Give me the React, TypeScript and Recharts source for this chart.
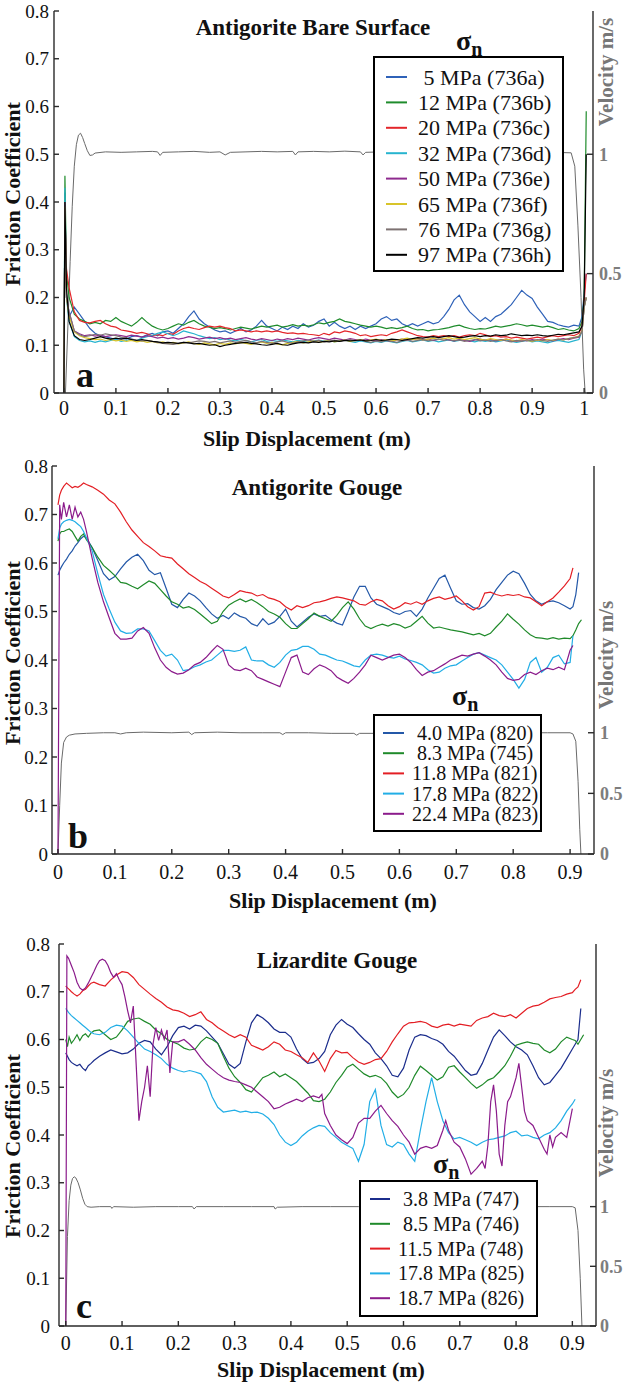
import React from 'react';
import { LineChart, Line, XAxis, YAxis } from 'recharts';

const SERIF = '"Liberation Serif", "Times New Roman", Times, serif';

// shared axis ticks
const frictionTicks = [0, 0.1, 0.2, 0.3, 0.4, 0.5, 0.6, 0.7, 0.8];
const velocityTicks = [0, 0.5, 1];
const slipTicksA = [0, 0.1, 0.2, 0.3, 0.4, 0.5, 0.6, 0.7, 0.8, 0.9, 1];
const slipTicksGouge = [0, 0.1, 0.2, 0.3, 0.4, 0.5, 0.6, 0.7, 0.8, 0.9];

// ---------- (a) Antigorite bare surface ----------
const slipA = [
  0, 0.002, 0.005,
  0.01, 0.02, 0.03, 0.04, 0.05, 0.06, 0.07, 0.08, 0.09, 0.1,
  0.11, 0.12, 0.13, 0.14, 0.15, 0.16, 0.17, 0.18, 0.19, 0.2,
  0.21, 0.22, 0.23, 0.24, 0.25, 0.26, 0.27, 0.28, 0.29, 0.3,
  0.31, 0.32, 0.33, 0.34, 0.35, 0.36, 0.37, 0.38, 0.39, 0.4,
  0.41, 0.42, 0.43, 0.44, 0.45, 0.46, 0.47, 0.48, 0.49, 0.5,
  0.51, 0.52, 0.53, 0.54, 0.55, 0.56, 0.57, 0.58, 0.59, 0.6,
  0.61, 0.62, 0.63, 0.64, 0.65, 0.66, 0.67, 0.68, 0.69, 0.7,
  0.71, 0.72, 0.73, 0.74, 0.75, 0.76, 0.77, 0.78, 0.79, 0.8,
  0.81, 0.82, 0.83, 0.84, 0.85, 0.86, 0.87, 0.88, 0.89, 0.9,
  0.91, 0.92, 0.93, 0.94, 0.95, 0.96, 0.97, 0.98, 0.99,
  0.996, 1.0, 1.004,
];

const mu736a = [
  0, 0.42, 0.2,
  0.16, 0.18, 0.165, 0.15, 0.135, 0.125, 0.12, 0.118, 0.115, 0.112,
  0.115, 0.113, 0.118, 0.12, 0.117, 0.122, 0.125, 0.12, 0.128, 0.13,
  0.125, 0.135, 0.145, 0.16, 0.172, 0.155, 0.145, 0.138, 0.132, 0.128,
  0.13, 0.125, 0.13, 0.135, 0.128, 0.132, 0.14, 0.152, 0.14, 0.135,
  0.13, 0.138, 0.133, 0.14, 0.135, 0.145, 0.138, 0.142, 0.15, 0.155,
  0.14, 0.148, 0.14, 0.135, 0.14, 0.133, 0.14, 0.135, 0.14, 0.145,
  0.155, 0.16, 0.152, 0.155, 0.145, 0.14, 0.145, 0.14, 0.145, 0.15,
  0.145, 0.148, 0.16, 0.175, 0.195, 0.205, 0.185, 0.17, 0.16, 0.15,
  0.158, 0.15, 0.16, 0.165, 0.175, 0.185, 0.2, 0.215, 0.205, 0.198,
  0.18, 0.165, 0.15, 0.148, 0.143, 0.14, 0.138, 0.142, 0.14,
  0.16, 0.21, 0.25,
];
const mu736b = [
  0, 0.455, 0.25,
  0.2, 0.165, 0.155, 0.15, 0.145, 0.148, 0.145, 0.152, 0.15, 0.158,
  0.15, 0.145, 0.14, 0.148, 0.158, 0.148, 0.14, 0.135, 0.132, 0.135,
  0.14, 0.145, 0.142, 0.148, 0.152, 0.145, 0.14, 0.138, 0.135, 0.137,
  0.135, 0.132, 0.135, 0.138, 0.136, 0.134, 0.137, 0.14, 0.138, 0.14,
  0.142, 0.138, 0.14, 0.143, 0.14, 0.142, 0.14, 0.143, 0.147, 0.145,
  0.148, 0.15, 0.155, 0.15, 0.148, 0.145, 0.142, 0.14, 0.138, 0.14,
  0.138, 0.135, 0.137, 0.135, 0.137, 0.14, 0.135, 0.132, 0.133, 0.13,
  0.132, 0.133, 0.135, 0.137, 0.14, 0.142, 0.138, 0.135, 0.133, 0.135,
  0.134, 0.137, 0.14, 0.138, 0.14, 0.142, 0.145, 0.143, 0.14, 0.142,
  0.14, 0.138, 0.14, 0.137, 0.133, 0.135, 0.132, 0.13, 0.135,
  0.15, 0.2, 0.59,
];
const mu736c = [
  0, 0.38, 0.26,
  0.22, 0.17, 0.152, 0.148, 0.147, 0.15, 0.152, 0.145, 0.14, 0.138,
  0.132, 0.13, 0.128, 0.125, 0.127, 0.124, 0.12, 0.122, 0.12, 0.125,
  0.123, 0.13, 0.135, 0.138, 0.135, 0.133, 0.137, 0.14, 0.138, 0.14,
  0.137, 0.135, 0.13, 0.132, 0.13, 0.128, 0.13, 0.128, 0.13, 0.128,
  0.13, 0.127, 0.125, 0.126, 0.124, 0.125, 0.123, 0.122, 0.12, 0.125,
  0.122, 0.128, 0.126, 0.13, 0.128, 0.125, 0.12, 0.122, 0.118, 0.12,
  0.122, 0.12, 0.125, 0.128, 0.132, 0.128, 0.124, 0.12, 0.118, 0.117,
  0.12, 0.118, 0.12, 0.118, 0.12, 0.117, 0.12, 0.122, 0.12, 0.125,
  0.122, 0.118, 0.12, 0.117, 0.118, 0.115, 0.117, 0.115, 0.113, 0.115,
  0.117, 0.115, 0.118, 0.12, 0.118, 0.12, 0.122, 0.12, 0.125,
  0.14, 0.19, 0.25,
];
const mu736d = [
  0, 0.43, 0.2,
  0.15, 0.118, 0.11, 0.107, 0.109, 0.106, 0.109, 0.107, 0.11, 0.112,
  0.108, 0.11, 0.113, 0.11, 0.115, 0.118, 0.121, 0.125, 0.128, 0.124,
  0.12, 0.124, 0.13, 0.127, 0.124, 0.12, 0.117, 0.114, 0.116, 0.112,
  0.114, 0.111, 0.109, 0.112, 0.11, 0.107, 0.11, 0.112, 0.108, 0.11,
  0.108, 0.111, 0.109, 0.107, 0.11, 0.108, 0.106, 0.109, 0.111, 0.108,
  0.11, 0.107, 0.109, 0.111, 0.108, 0.106, 0.109, 0.107, 0.105, 0.108,
  0.106, 0.109, 0.107, 0.105, 0.108, 0.11, 0.107, 0.109, 0.111, 0.108,
  0.11, 0.107, 0.109, 0.111, 0.108, 0.11, 0.112, 0.109, 0.107, 0.11,
  0.108, 0.11, 0.107, 0.109, 0.111, 0.108, 0.106, 0.108, 0.11, 0.107,
  0.109, 0.107, 0.105, 0.108, 0.11, 0.108, 0.106, 0.109, 0.112,
  0.13, 0.18, 0.2,
];
const mu736e = [
  0, 0.4, 0.2,
  0.17, 0.13, 0.124, 0.12, 0.122, 0.119, 0.121, 0.118, 0.12, 0.122,
  0.12, 0.118, 0.121, 0.119, 0.117, 0.12, 0.118, 0.115, 0.117, 0.114,
  0.116, 0.113, 0.115, 0.118, 0.116, 0.113, 0.115, 0.117, 0.114, 0.116,
  0.113, 0.115, 0.112, 0.114, 0.116, 0.113, 0.111, 0.114, 0.112, 0.11,
  0.113, 0.111, 0.114, 0.112, 0.115, 0.113, 0.111, 0.114, 0.116, 0.114,
  0.112, 0.115, 0.113, 0.111, 0.114, 0.112, 0.11, 0.113, 0.111, 0.109,
  0.112, 0.11, 0.108, 0.111, 0.113, 0.11, 0.112, 0.114, 0.111, 0.113,
  0.11, 0.112, 0.114, 0.111, 0.109, 0.112, 0.11, 0.108, 0.111, 0.113,
  0.11, 0.112, 0.109, 0.111, 0.113, 0.11, 0.108, 0.111, 0.109, 0.112,
  0.11, 0.113, 0.111, 0.109, 0.112, 0.114, 0.112, 0.115, 0.117,
  0.13, 0.18, 0.2,
];
const mu736f = [
  0, 0.39, 0.2,
  0.16, 0.128, 0.12, 0.116, 0.114, 0.112, 0.113, 0.11, 0.112, 0.109,
  0.111, 0.108, 0.11, 0.107, 0.109, 0.106, 0.108, 0.105, 0.107, 0.104,
  0.106, 0.103, 0.105, 0.107, 0.104, 0.102, 0.105, 0.103, 0.101, 0.104,
  0.102, 0.105, 0.103, 0.106, 0.104, 0.102, 0.105, 0.107, 0.104, 0.106,
  0.103, 0.101, 0.104, 0.106, 0.108, 0.105, 0.107, 0.109, 0.106, 0.108,
  0.11, 0.107, 0.109, 0.111, 0.108, 0.11, 0.112, 0.109, 0.111, 0.113,
  0.11, 0.112, 0.109, 0.111, 0.113, 0.115, 0.112, 0.114, 0.111, 0.113,
  0.115, 0.112, 0.114, 0.116, 0.113, 0.115, 0.112, 0.114, 0.116, 0.113,
  0.111, 0.114, 0.112, 0.11, 0.113, 0.111, 0.109, 0.112, 0.11, 0.108,
  0.111, 0.109, 0.112, 0.11, 0.113, 0.111, 0.114, 0.116, 0.119,
  0.13, 0.18, 0.2,
];
const mu736g = [
  0, 0.4, 0.2,
  0.17, 0.13, 0.122, 0.118, 0.12, 0.123, 0.121, 0.124, 0.122, 0.12,
  0.117, 0.115, 0.113, 0.111, 0.109, 0.11, 0.108, 0.106, 0.104, 0.103,
  0.102, 0.104, 0.106, 0.105, 0.107, 0.109, 0.108, 0.106, 0.108, 0.105,
  0.107, 0.109, 0.106, 0.108, 0.11, 0.107, 0.105, 0.108, 0.106, 0.104,
  0.107, 0.109, 0.106, 0.104, 0.107, 0.109, 0.111, 0.108, 0.11, 0.107,
  0.109, 0.111, 0.108, 0.11, 0.112, 0.109, 0.111, 0.108, 0.106, 0.109,
  0.107, 0.11, 0.108, 0.106, 0.109, 0.111, 0.108, 0.11, 0.112, 0.109,
  0.111, 0.113, 0.11, 0.112, 0.109, 0.111, 0.108, 0.11, 0.112, 0.109,
  0.111, 0.108, 0.11, 0.112, 0.109, 0.107, 0.11, 0.108, 0.111, 0.109,
  0.112, 0.11, 0.108, 0.111, 0.113, 0.111, 0.114, 0.116, 0.118,
  0.13, 0.18, 0.2,
];
const mu736h = [
  0, 0.4, 0.22,
  0.15, 0.12, 0.112, 0.11, 0.112, 0.115, 0.118, 0.115, 0.113, 0.115,
  0.113, 0.115, 0.112, 0.11, 0.112, 0.11, 0.108, 0.107, 0.105, 0.106,
  0.105, 0.104, 0.106, 0.105, 0.103, 0.104, 0.102, 0.1, 0.101, 0.097,
  0.1, 0.102, 0.104, 0.105, 0.106, 0.104, 0.103, 0.101, 0.1, 0.102,
  0.104, 0.101, 0.1, 0.103, 0.105, 0.106, 0.105, 0.107, 0.106, 0.108,
  0.107, 0.109, 0.108, 0.11, 0.109, 0.11, 0.111, 0.109, 0.11, 0.112,
  0.11, 0.111, 0.113, 0.112, 0.11, 0.112, 0.114, 0.116, 0.115, 0.117,
  0.118, 0.116, 0.118, 0.12, 0.118, 0.116, 0.117, 0.119, 0.12, 0.118,
  0.12, 0.119, 0.122, 0.12, 0.121, 0.124, 0.122, 0.12, 0.121, 0.12,
  0.122, 0.12, 0.119, 0.121, 0.123, 0.122, 0.124, 0.126, 0.128,
  0.14, 0.2, 0.5,
];
// [slip m, velocity m/s]
const velocityA: [number, number][] = [
  [0.003, 0], [0.008, 0.3], [0.012, 0.55], [0.016, 0.78], [0.02, 0.95], [0.024, 1.04],
  [0.028, 1.08], [0.032, 1.088], [0.036, 1.07], [0.04, 1.045], [0.045, 1.015], [0.05, 0.995],
  [0.055, 0.997], [0.06, 1.005], [0.08, 1.01], [0.11, 1.008], [0.14, 1.01], [0.17, 1.012],
  [0.18, 1.01], [0.185, 0.995], [0.19, 1.008], [0.22, 1.01], [0.25, 1.012], [0.28, 1.008],
  [0.3, 1.01], [0.31, 0.997], [0.32, 1.008], [0.35, 1.01], [0.38, 1.012], [0.41, 1.01],
  [0.44, 1.012], [0.445, 0.997], [0.45, 1.01], [0.48, 1.012], [0.51, 1.01], [0.54, 1.013],
  [0.57, 1.01], [0.575, 0.997], [0.58, 1.008], [0.61, 1.01], [0.64, 1.012], [0.67, 1.01],
  [0.7, 1.008], [0.73, 1.01], [0.76, 1.012], [0.79, 1.01], [0.82, 1.008], [0.85, 1.01],
  [0.88, 1.012], [0.91, 1.01], [0.94, 1.008], [0.975, 1.006], [0.982, 0.95], [0.988, 0.7],
  [0.994, 0.4], [0.999, 0.1], [1.002, 0],
];

// ---------- (b) and (c) share the slip grid ----------
const slipGouge = [
  0, 0.003, 0.006, 0.01, 0.015, 0.02, 0.025, 0.03, 0.035, 0.04, 0.045, 0.05,
  0.06, 0.07, 0.08, 0.09, 0.1, 0.11, 0.12, 0.13, 0.14, 0.15,
  0.16, 0.17, 0.18, 0.19, 0.2, 0.21, 0.22, 0.23, 0.24, 0.25,
  0.26, 0.27, 0.28, 0.29, 0.3, 0.31, 0.32, 0.33, 0.34, 0.35,
  0.36, 0.37, 0.38, 0.39, 0.4, 0.41, 0.42, 0.43, 0.44, 0.45,
  0.46, 0.47, 0.48, 0.49, 0.5, 0.51, 0.52, 0.53, 0.54, 0.55,
  0.56, 0.57, 0.58, 0.59, 0.6, 0.61, 0.62, 0.63, 0.64, 0.65,
  0.66, 0.67, 0.68, 0.69, 0.7, 0.71, 0.72, 0.73, 0.74, 0.75,
  0.76, 0.77, 0.78, 0.79, 0.8, 0.81, 0.82, 0.83, 0.84, 0.85,
  0.86, 0.87, 0.88, 0.89, 0.9,
  0.905, 0.91, 0.915, 0.92,
];

// (b) Antigorite gouge
const mu820 = [
  0.575, 0.585, 0.592, 0.6, 0.608, 0.618, 0.625, 0.635, 0.642, 0.65, 0.655, 0.652,
  0.632, 0.605, 0.578, 0.565, 0.572, 0.588, 0.602, 0.612, 0.618, 0.605,
  0.585, 0.576, 0.58, 0.548, 0.515, 0.508, 0.525, 0.538, 0.532, 0.522,
  0.508, 0.495, 0.486, 0.492, 0.485, 0.497, 0.49, 0.486, 0.475, 0.47,
  0.485, 0.473, 0.478, 0.49, 0.505, 0.48, 0.468, 0.478, 0.488, 0.495,
  0.49, 0.492, 0.483, 0.476, 0.472, 0.5, 0.53, 0.552, 0.552, 0.528,
  0.515, 0.51, 0.505, 0.498, 0.494, 0.5, 0.502, 0.49, 0.505, 0.528,
  0.548, 0.568, 0.575, 0.548, 0.522, 0.515, 0.516, 0.508, 0.505, 0.512,
  0.525, 0.545, 0.56, 0.575, 0.583, 0.578, 0.558, 0.535, 0.522, 0.515,
  0.52, 0.522, 0.518, 0.512, 0.505,
  0.51, 0.535, 0.58, null,
];
const mu745 = [
  0.645, 0.66, 0.665, 0.665, 0.668, 0.67, 0.665, 0.655, 0.645, 0.655, 0.66, 0.648,
  0.632, 0.612, 0.595, 0.585, 0.574, 0.56, 0.558, 0.552, 0.547, 0.555,
  0.563, 0.558, 0.545, 0.532, 0.52, 0.515, 0.507, 0.51, 0.504, 0.495,
  0.485, 0.475, 0.48, 0.5, 0.513, 0.52, 0.526, 0.52, 0.525, 0.518,
  0.51, 0.5, 0.495, 0.488, 0.475, 0.465, 0.465, 0.475, 0.485, 0.497,
  0.49, 0.485, 0.48, 0.492, 0.508, 0.52, 0.505, 0.485, 0.47, 0.465,
  0.47, 0.474, 0.47, 0.475, 0.472, 0.466, 0.47, 0.48, 0.49, 0.476,
  0.466, 0.468, 0.465, 0.462, 0.46, 0.458, 0.455, 0.452, 0.455, 0.45,
  0.455, 0.468, 0.48, 0.495, 0.484, 0.474, 0.462, 0.452, 0.446, 0.445,
  0.443, 0.446, 0.443, 0.445, 0.444,
  0.45, 0.462, 0.475, 0.483,
];
const mu821 = [
  0.72, 0.74, 0.75, 0.758, 0.765, 0.76, 0.755, 0.758, 0.756, 0.76, 0.765, 0.762,
  0.757, 0.75, 0.742, 0.73, 0.722, 0.705, 0.685, 0.668, 0.655, 0.642,
  0.634, 0.625, 0.615, 0.612, 0.61, 0.598, 0.588, 0.578, 0.57, 0.562,
  0.556, 0.548, 0.54, 0.532, 0.528, 0.535, 0.543, 0.54, 0.538, 0.532,
  0.535, 0.528, 0.525, 0.52, 0.51, 0.503, 0.512, 0.508, 0.512, 0.518,
  0.52, 0.523, 0.527, 0.53, 0.528, 0.525, 0.522, 0.515, 0.513, 0.52,
  0.525, 0.522, 0.512, 0.505, 0.51, 0.518, 0.515, 0.52, 0.515, 0.522,
  0.527, 0.53, 0.525, 0.528, 0.532, 0.522, 0.51, 0.503, 0.51, 0.538,
  0.54, 0.535, 0.532, 0.535, 0.533, 0.535, 0.53, 0.528, 0.52, 0.512,
  0.52, 0.528, 0.54, 0.553, 0.568,
  0.59, null, null, null,
];
const mu822 = [
  0.65, 0.672, 0.68, 0.685, 0.688, 0.69, 0.688, 0.685, 0.68, 0.675, 0.665, 0.652,
  0.625, 0.578, 0.535, 0.505, 0.478, 0.46, 0.455, 0.456, 0.464, 0.464,
  0.46, 0.44, 0.42, 0.408, 0.412, 0.4, 0.378, 0.38, 0.386, 0.39,
  0.396, 0.4, 0.41, 0.42, 0.42, 0.418, 0.42, 0.427, 0.4, 0.398,
  0.398, 0.39, 0.385, 0.395, 0.41, 0.42, 0.422, 0.428, 0.428, 0.422,
  0.412, 0.41, 0.405, 0.4, 0.398, 0.393, 0.388, 0.386, 0.4, 0.41,
  0.412, 0.41, 0.406, 0.404, 0.408, 0.402, 0.399, 0.395, 0.39, 0.38,
  0.373, 0.375, 0.383, 0.388, 0.39, 0.398, 0.405, 0.412, 0.415, 0.41,
  0.405, 0.4, 0.39, 0.375, 0.36, 0.342, 0.36, 0.395, 0.405, 0.375,
  0.385, 0.405, 0.41, 0.392, 0.395,
  0.45, null, null, null,
];
const mu823 = [
  0, 0.72, 0.69, 0.725, 0.695, 0.72, 0.69, 0.715, 0.695, 0.705, 0.69, 0.665,
  0.61, 0.56, 0.52, 0.487, 0.455, 0.443, 0.443, 0.445, 0.46, 0.467,
  0.455, 0.425, 0.4, 0.385, 0.376, 0.371, 0.373, 0.38, 0.39, 0.395,
  0.405, 0.418, 0.43, 0.422, 0.39, 0.38, 0.378, 0.383, 0.378, 0.365,
  0.36, 0.355, 0.35, 0.345, 0.375, 0.405, 0.41, 0.375, 0.37, 0.382,
  0.39, 0.385, 0.378, 0.365, 0.358, 0.352, 0.362, 0.375, 0.39, 0.41,
  0.405, 0.4, 0.405, 0.41, 0.412, 0.405, 0.395, 0.38, 0.368, 0.375,
  0.378, 0.385, 0.392, 0.4, 0.405, 0.41, 0.408, 0.412, 0.415, 0.408,
  0.4, 0.39, 0.375, 0.362, 0.358, 0.36, 0.37, 0.375, 0.37, 0.378,
  0.383, 0.38, 0.385, 0.38, 0.42,
  0.43, null, null, null,
];
const velocityB: [number, number][] = [
  [0, 0], [0.003, 0.4], [0.006, 0.75], [0.01, 0.92], [0.015, 0.965], [0.02, 0.98],
  [0.03, 0.99], [0.05, 0.995], [0.08, 1], [0.1, 1], [0.11, 0.99], [0.12, 1],
  [0.15, 1.005], [0.2, 1], [0.23, 1.005], [0.235, 0.985], [0.24, 1], [0.28, 1.005],
  [0.32, 1], [0.36, 1], [0.39, 1], [0.395, 0.985], [0.4, 1], [0.44, 1],
  [0.48, 0.995], [0.52, 0.995], [0.525, 0.98], [0.53, 0.995], [0.58, 0.995], [0.62, 1],
  [0.66, 0.995], [0.7, 0.995], [0.74, 1], [0.78, 0.995], [0.82, 1], [0.86, 1],
  [0.9, 1], [0.905, 0.99], [0.91, 0.93], [0.914, 0.6], [0.917, 0.2], [0.919, 0],
];

// (c) Lizardite gouge
const mu747 = [
  0.572, 0.565, 0.558, 0.552, 0.548, 0.545, 0.548, 0.54, 0.535, 0.545, 0.55, 0.556,
  0.565, 0.572, 0.578, 0.574, 0.57, 0.572, 0.58, 0.592, 0.598, 0.595,
  0.58, 0.568, 0.585, 0.608, 0.625, 0.628, 0.622, 0.63, 0.628, 0.618,
  0.605, 0.592, 0.57, 0.548, 0.54, 0.55, 0.595, 0.635, 0.652, 0.645,
  0.635, 0.622, 0.615, 0.615, 0.605, 0.58, 0.56, 0.55, 0.552, 0.56,
  0.575, 0.61, 0.63, 0.642, 0.632, 0.625, 0.612, 0.6, 0.59, 0.572,
  0.56, 0.545, 0.525, 0.522, 0.54, 0.578, 0.605, 0.61, 0.608, 0.602,
  0.598, 0.59, 0.575, 0.565, 0.55, 0.535, 0.525, 0.528, 0.55, 0.578,
  0.605, 0.62, 0.608, 0.595, 0.585, 0.578, 0.568, 0.545, 0.52, 0.505,
  0.51, 0.525, 0.54, 0.56, 0.58,
  0.59, 0.6, 0.665, null,
];
const mu746 = [
  0.6, 0.585, 0.605, 0.592, 0.6, 0.61, 0.598, 0.608, 0.612, 0.605, 0.614, 0.618,
  0.62, 0.61, 0.6, 0.605, 0.62, 0.638, 0.643, 0.645, 0.638, 0.632,
  0.62, 0.612, 0.6, 0.595, 0.59, 0.582, 0.578, 0.58, 0.595, 0.605,
  0.6, 0.592, 0.565, 0.54, 0.522, 0.51, 0.495, 0.49, 0.505, 0.52,
  0.525, 0.532, 0.522, 0.528, 0.52, 0.512, 0.5, 0.488, 0.472, 0.47,
  0.475, 0.49, 0.51, 0.525, 0.542, 0.548, 0.538, 0.528, 0.522, 0.525,
  0.52, 0.508, 0.49, 0.478, 0.485, 0.5, 0.525, 0.544, 0.535, 0.525,
  0.515, 0.522, 0.542, 0.545, 0.532, 0.52, 0.508, 0.498, 0.505, 0.515,
  0.52, 0.532, 0.545, 0.565, 0.588, 0.592, 0.595, 0.592, 0.59, 0.578,
  0.572, 0.58, 0.595, 0.605, 0.6,
  0.598, 0.59, 0.6, 0.61,
];
const mu748 = [
  0.712, 0.708, 0.705, 0.7, 0.695, 0.691, 0.695, 0.702, 0.705, 0.712, 0.718, 0.72,
  0.715, 0.712, 0.725, 0.735, 0.742, 0.74, 0.73, 0.715, 0.705, 0.695,
  0.686, 0.678, 0.668, 0.662, 0.66, 0.655, 0.648, 0.652, 0.658, 0.642,
  0.635, 0.625, 0.618, 0.61, 0.604, 0.61, 0.605, 0.588, 0.583, 0.578,
  0.585, 0.595, 0.59, 0.578, 0.575, 0.568, 0.562, 0.552, 0.572, 0.555,
  0.533, 0.56, 0.577, 0.572, 0.573, 0.562, 0.553, 0.548, 0.552, 0.558,
  0.56, 0.575, 0.595, 0.612, 0.628, 0.635, 0.636, 0.638, 0.635, 0.628,
  0.625, 0.63, 0.632, 0.628, 0.632, 0.63, 0.628, 0.64, 0.645, 0.648,
  0.655, 0.65, 0.648, 0.652, 0.645, 0.655, 0.665, 0.67, 0.672, 0.678,
  0.685, 0.688, 0.69, 0.695, 0.698,
  0.705, 0.71, 0.725, null,
];
const mu825 = [
  0.665, 0.66, 0.655, 0.65, 0.645, 0.64, 0.635, 0.63, 0.625, 0.62, 0.615, 0.612,
  0.61, 0.615, 0.625, 0.63, 0.628, 0.618, 0.605, 0.592, 0.58, 0.575,
  0.568, 0.56, 0.548, 0.54, 0.535, 0.532, 0.535, 0.532, 0.528, 0.512,
  0.48, 0.458, 0.448, 0.45, 0.452, 0.448, 0.45, 0.447, 0.448, 0.444,
  0.435, 0.422, 0.4, 0.385, 0.378, 0.385, 0.398, 0.408, 0.415, 0.42,
  0.418, 0.405, 0.395, 0.385, 0.378, 0.372, 0.345, 0.38, 0.47, 0.495,
  0.42, 0.38, 0.375, 0.385, 0.38, 0.36, 0.345, 0.41, 0.47, 0.52,
  0.47, 0.43, 0.405, 0.392, 0.395, 0.39, 0.385, 0.378, 0.385, 0.39,
  0.392, 0.395, 0.398, 0.405, 0.408, 0.398, 0.4, 0.395, 0.392, 0.4,
  0.405, 0.415, 0.43, 0.45, 0.465,
  0.475, null, null, null,
];
// 826 has sharp stick-slip spikes, so it keeps its own finer [slip, mu] samples
const mu826: [number, number][] = [
  [0, 0], [0.002, 0.775], [0.005, 0.77], [0.01, 0.755], [0.015, 0.74], [0.02, 0.72],
  [0.025, 0.708], [0.03, 0.703], [0.035, 0.708], [0.04, 0.718], [0.045, 0.73], [0.05, 0.742],
  [0.055, 0.755], [0.06, 0.765], [0.065, 0.768], [0.07, 0.765], [0.075, 0.755], [0.08, 0.74],
  [0.085, 0.73], [0.09, 0.738], [0.095, 0.725], [0.1, 0.715], [0.105, 0.69], [0.11, 0.66],
  [0.115, 0.635], [0.12, 0.67], [0.125, 0.55], [0.13, 0.43], [0.135, 0.47], [0.14, 0.5],
  [0.145, 0.545], [0.15, 0.48], [0.155, 0.59], [0.16, 0.625], [0.165, 0.598], [0.17, 0.62],
  [0.175, 0.6], [0.18, 0.62], [0.185, 0.53], [0.19, 0.595], [0.2, 0.595], [0.21, 0.6],
  [0.22, 0.59], [0.23, 0.578], [0.24, 0.562], [0.25, 0.548], [0.26, 0.538], [0.27, 0.528],
  [0.28, 0.52], [0.29, 0.515], [0.3, 0.512], [0.31, 0.51], [0.32, 0.505], [0.33, 0.5],
  [0.34, 0.49], [0.35, 0.48], [0.36, 0.47], [0.37, 0.455], [0.38, 0.458], [0.39, 0.465],
  [0.4, 0.47], [0.41, 0.475], [0.42, 0.47], [0.43, 0.478], [0.44, 0.482], [0.45, 0.478],
  [0.455, 0.485], [0.46, 0.445], [0.47, 0.42], [0.48, 0.4], [0.49, 0.39], [0.5, 0.382],
  [0.51, 0.395], [0.52, 0.425], [0.53, 0.435], [0.54, 0.435], [0.55, 0.45], [0.56, 0.462],
  [0.57, 0.445], [0.58, 0.43], [0.59, 0.418], [0.6, 0.4], [0.61, 0.385], [0.62, 0.36],
  [0.63, 0.372], [0.64, 0.376], [0.65, 0.372], [0.66, 0.378], [0.67, 0.41], [0.675, 0.43],
  [0.68, 0.41], [0.69, 0.385], [0.7, 0.375], [0.71, 0.35], [0.72, 0.318], [0.73, 0.33],
  [0.74, 0.345], [0.745, 0.33], [0.75, 0.38], [0.755, 0.47], [0.76, 0.505], [0.765, 0.45],
  [0.77, 0.36], [0.775, 0.335], [0.78, 0.42], [0.785, 0.47], [0.79, 0.48], [0.795, 0.5],
  [0.8, 0.52], [0.805, 0.55], [0.81, 0.5], [0.815, 0.45], [0.82, 0.43], [0.83, 0.42],
  [0.84, 0.395], [0.85, 0.37], [0.855, 0.36], [0.86, 0.4], [0.865, 0.375], [0.87, 0.395],
  [0.88, 0.405], [0.89, 0.395], [0.9, 0.455],
];
const velocityC: [number, number][] = [
  [0, 0], [0.003, 0.75], [0.006, 1.05], [0.009, 1.18], [0.012, 1.235], [0.015, 1.25],
  [0.018, 1.24], [0.022, 1.2], [0.026, 1.14], [0.03, 1.07], [0.034, 1.02], [0.038, 1],
  [0.045, 0.995], [0.06, 1], [0.08, 1], [0.082, 0.985], [0.085, 1], [0.12, 0.995],
  [0.16, 1], [0.2, 1], [0.225, 1], [0.228, 0.98], [0.232, 1], [0.28, 1],
  [0.33, 1], [0.37, 1], [0.372, 0.98], [0.376, 0.995], [0.42, 1], [0.47, 1],
  [0.52, 1], [0.57, 0.995], [0.62, 1], [0.67, 1], [0.72, 1], [0.77, 1],
  [0.82, 1], [0.86, 1], [0.9, 1], [0.905, 0.99], [0.91, 0.8], [0.914, 0.4], [0.917, 0],
];

type Series = {
  key: string;
  label: string;
  color: string;
  values?: (number | null)[];
  points?: [number, number][];
};

const seriesA: Series[] = [
  { key: 'r736a', label: ' 5 MPa (736a)', color: '#2f62b8', values: mu736a },
  { key: 'r736b', label: '12 MPa (736b)', color: '#1f8c2c', values: mu736b },
  { key: 'r736c', label: '20 MPa (736c)', color: '#e3262b', values: mu736c },
  { key: 'r736d', label: '32 MPa (736d)', color: '#27b4cf', values: mu736d },
  { key: 'r736e', label: '50 MPa (736e)', color: '#8e2a8e', values: mu736e },
  { key: 'r736f', label: '65 MPa (736f)', color: '#d8c42a', values: mu736f },
  { key: 'r736g', label: '76 MPa (736g)', color: '#7d7272', values: mu736g },
  { key: 'r736h', label: '97 MPa (736h)', color: '#000000', values: mu736h },
];
const seriesB: Series[] = [
  { key: 'r820', label: ' 4.0 MPa (820)', color: '#2458a8', values: mu820 },
  { key: 'r745', label: ' 8.3 MPa (745)', color: '#1f8a2a', values: mu745 },
  { key: 'r821', label: '11.8 MPa (821)', color: '#e31e24', values: mu821 },
  { key: 'r822', label: '17.8 MPa (822)', color: '#22aee6', values: mu822 },
  { key: 'r823', label: '22.4 MPa (823)', color: '#8b1b8b', values: mu823 },
];
const seriesC: Series[] = [
  { key: 'r747', label: ' 3.8 MPa (747)', color: '#1b2d8c', values: mu747 },
  { key: 'r746', label: ' 8.5 MPa (746)', color: '#1f8a2a', values: mu746 },
  { key: 'r748', label: '11.5 MPa (748)', color: '#e31e24', values: mu748 },
  { key: 'r825', label: '17.8 MPa (825)', color: '#22aee6', values: mu825 },
  { key: 'r826', label: '18.7 MPa (826)', color: '#8b1b8b', points: mu826 },
];

const buildRows = (xs: number[], series: Series[]) =>
  xs.map((x, i) => {
    const row: Record<string, number | null> = { x };
    series.forEach((s) => {
      if (s.values) row[s.key] = s.values[i] ?? null;
    });
    return row;
  });

type PanelProps = {
  height: number;
  plotTop: number;
  plotBottom: number;
  plotLeft: number;
  plotRight: number;
  xDomain: [number, number];
  xTicks: number[];
  xTickGap: number;
  yTickGap: number;
  vTickGap: number;
  vMax: number;
  slip: number[];
  series: Series[];
  velocity: [number, number][];
  title: string;
  titleX: number;
  titleY: number;
  letter: string;
  letterX: number;
  letterY: number;
  sigmaX: number;
  sigmaY: number;
  muLabelY: number;
  velLabelY: number;
  slipLabelX: number;
  slipLabelY: number;
  legend: { x: number; y: number; w: number; h: number; firstY: number; step: number; x1: number; x2: number; textX: number; fontSize: number };
};

const frame = { stroke: '#2a2a2a', strokeWidth: 1.4 };

const Panel = (p: PanelProps) => {
  const rows = buildRows(p.slip, p.series);
  const velRows = p.velocity.map(([x, v]) => ({ x, vel: v }));
  const lg = p.legend;
  return (
    <div style={{ position: 'relative', width: 625, height: p.height }}>
      <LineChart width={625} height={p.height} data={rows} margin={{ top: p.plotTop, right: 0, bottom: 0, left: 0 }}>
        <XAxis
          xAxisId="s"
          dataKey="x"
          type="number"
          domain={p.xDomain}
          ticks={p.xTicks}
          interval={0}
          allowDataOverflow
          height={p.height - p.plotBottom}
          axisLine={frame}
          tickLine={frame}
          tickSize={-5}
          tickMargin={p.xTickGap}
          tick={{ fill: '#111', fontSize: 20, fontFamily: SERIF }}
        />
        <XAxis
          xAxisId="top"
          orientation="top"
          dataKey="x"
          type="number"
          domain={p.xDomain}
          ticks={p.xTicks}
          interval={0}
          allowDataOverflow
          height={0}
          axisLine={frame}
          tickLine={frame}
          tickSize={-5}
          tick={false}
        />
        <YAxis
          yAxisId="mu"
          width={p.plotLeft}
          domain={[0, 0.8]}
          ticks={frictionTicks}
          interval={0}
          allowDataOverflow
          axisLine={frame}
          tickLine={frame}
          tickSize={-5}
          tickMargin={p.yTickGap}
          tick={{ fill: '#111', fontSize: 19, fontFamily: SERIF }}
        />
        <YAxis
          yAxisId="v"
          orientation="right"
          width={625 - p.plotRight}
          domain={[0, p.vMax]}
          ticks={velocityTicks}
          interval={0}
          allowDataOverflow
          axisLine={frame}
          tickLine={frame}
          tickSize={-6}
          tickMargin={p.vTickGap}
          tick={{ fill: '#7d7d7d', fontSize: 18, fontWeight: 700, fontFamily: SERIF }}
        />
        <Line
          xAxisId="s"
          yAxisId="v"
          data={velRows}
          dataKey="vel"
          type="linear"
          stroke="#6a6a6a"
          strokeWidth={1}
          dot={false}
          activeDot={false}
          isAnimationActive={false}
        />
        {p.series.map((s) => (
          <Line
            key={s.key}
            xAxisId="s"
            yAxisId="mu"
            data={s.points ? s.points.map(([x, y]) => ({ x, [s.key]: y })) : undefined}
            dataKey={s.key}
            type="linear"
            stroke={s.color}
            strokeWidth={1.2}
            dot={false}
            activeDot={false}
            isAnimationActive={false}
          />
        ))}
      </LineChart>
      <svg
        width={625}
        height={p.height}
        style={{ position: 'absolute', left: 0, top: 0, pointerEvents: 'none' }}
        fontFamily={SERIF}
      >
        <text x={p.titleX} y={p.titleY} textAnchor="middle" fontSize={23} fontWeight="bold" fill="#111">
          {p.title}
        </text>
        <text x={p.sigmaX} y={p.sigmaY} fontSize={28} fontWeight="bold" fill="#111">
          σ<tspan fontSize={20} dy={6}>n</tspan>
        </text>
        <text x={p.letterX} y={p.letterY} fontSize={36} fontWeight="bold" fill="#111">
          {p.letter}
        </text>
        <text transform={`translate(20,${p.muLabelY}) rotate(-90)`} textAnchor="middle" fontSize={22} fontWeight="bold" fill="#111">
          Friction Coefficient
        </text>
        <text transform={`translate(613,${p.velLabelY}) rotate(-90)`} textAnchor="middle" fontSize={21} fontWeight="bold" fill="#777">
          Velocity m/s
        </text>
        <text x={p.slipLabelX} y={p.slipLabelY} textAnchor="middle" fontSize={22} fontWeight="bold" fill="#111">
          Slip Displacement (m)
        </text>
        <rect x={lg.x} y={lg.y} width={lg.w} height={lg.h} fill="#fff" stroke="#000" strokeWidth={2} />
        {p.series.map((s, i) => {
          const y = lg.firstY + i * lg.step;
          return (
            <g key={s.key}>
              <line x1={lg.x1} x2={lg.x2} y1={y} y2={y} stroke={s.color} strokeWidth={2} />
              <text x={lg.textX} y={y} dominantBaseline="central" fontSize={lg.fontSize} fill="#111" style={{ whiteSpace: 'pre' }}>
                {s.label}
              </text>
            </g>
          );
        })}
      </svg>
    </div>
  );
};

export default function App() {
  return (
    <div style={{ position: 'absolute', left: 0, top: 0, width: 625, height: 1382, background: '#fff' }}>
      <style>{'.recharts-surface { overflow: visible; }'}</style>
      <Panel
        height={460}
        plotTop={11}
        plotBottom={393}
        plotLeft={54}
        plotRight={593}
        xDomain={[-0.019, 1.017]}
        xTicks={slipTicksA}
        xTickGap={13}
        yTickGap={10}
        vTickGap={12}
        vMax={1.6}
        slip={slipA}
        series={seriesA}
        velocity={velocityA}
        title="Antigorite Bare Surface"
        titleX={313}
        titleY={35}
        letter="a"
        letterX={76}
        letterY={387}
        sigmaX={456}
        sigmaY={50}
        muLabelY={194}
        velLabelY={72}
        slipLabelX={307}
        slipLabelY={446}
        legend={{ x: 374, y: 57, w: 189, h: 214, firstY: 77, step: 25.4, x1: 386, x2: 407, textX: 418, fontSize: 22 }}
      />
      <Panel
        height={460}
        plotTop={6}
        plotBottom={394}
        plotLeft={52}
        plotRight={594}
        xDomain={[-0.0105, 0.942]}
        xTicks={slipTicksGouge}
        xTickGap={16}
        yTickGap={9}
        vTickGap={12}
        vMax={3.2}
        slip={slipGouge}
        series={seriesB}
        velocity={velocityB}
        title="Antigorite Gouge"
        titleX={317}
        titleY={35}
        letter="b"
        letterX={68}
        letterY={388}
        sigmaX={452}
        sigmaY={245}
        muLabelY={193}
        velLabelY={195}
        slipLabelX={333}
        slipLabelY={448}
        legend={{ x: 374, y: 255, w: 167, h: 116, firstY: 273, step: 20.2, x1: 383, x2: 404, textX: 412, fontSize: 20 }}
      />
      <Panel
        height={462}
        plotTop={24}
        plotBottom={406}
        plotLeft={59}
        plotRight={596}
        xDomain={[-0.012, 0.942]}
        xTicks={slipTicksGouge}
        xTickGap={15}
        yTickGap={14}
        vTickGap={10}
        vMax={3.2}
        slip={slipGouge}
        series={seriesC}
        velocity={velocityC}
        title="Lizardite Gouge"
        titleX={337}
        titleY={48}
        letter="c"
        letterX={76}
        letterY={398}
        sigmaX={433}
        sigmaY={253}
        muLabelY={226}
        velLabelY={203}
        slipLabelX={321}
        slipLabelY={457}
        legend={{ x: 360, y: 261, w: 177, h: 135, firstY: 279, step: 24.8, x1: 370, x2: 390, textX: 398, fontSize: 20 }}
      />
    </div>
  );
}
